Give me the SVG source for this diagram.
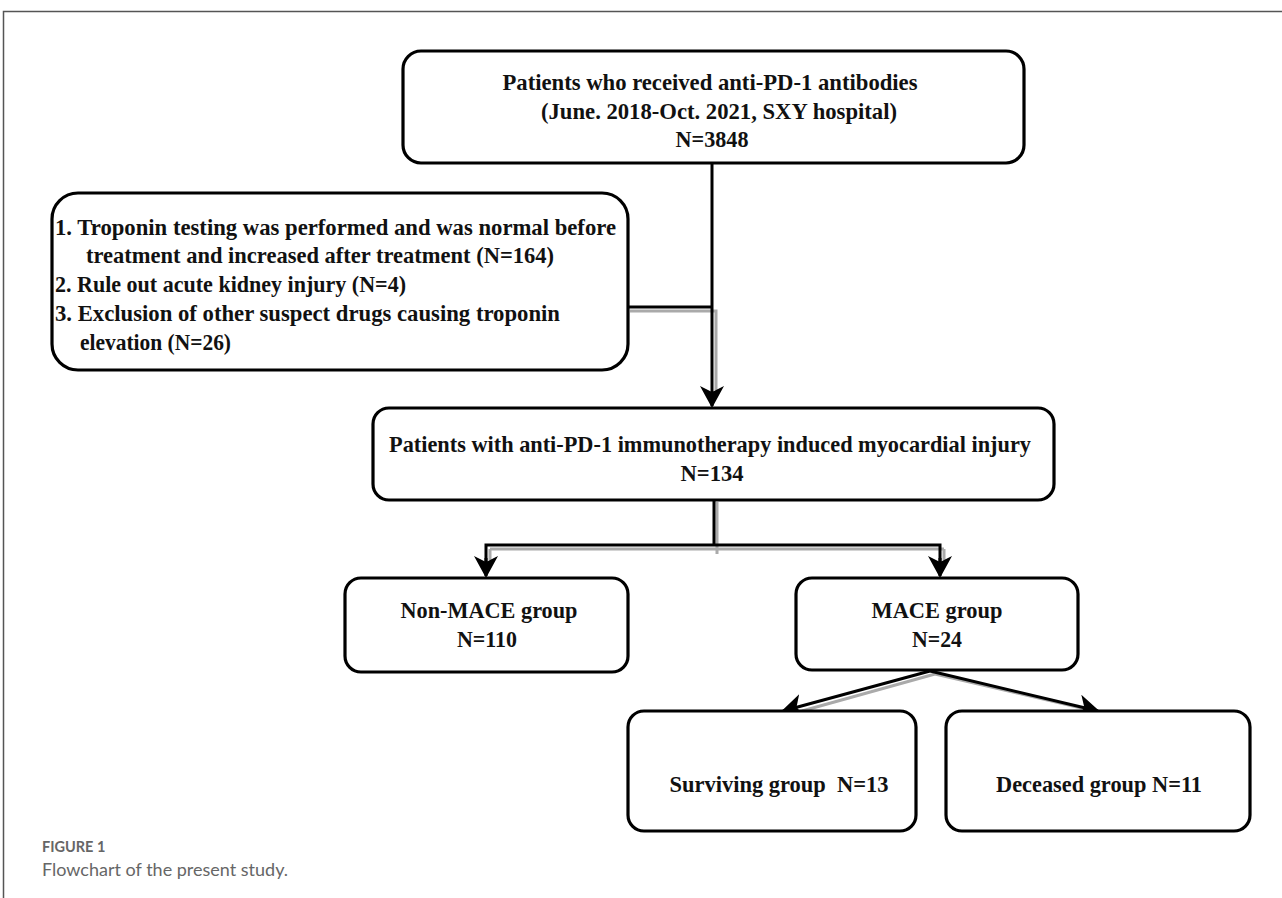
<svg xmlns="http://www.w3.org/2000/svg" width="1282" height="898" viewBox="0 0 1282 898">
<style>
.box{fill:#fff;stroke:#000;stroke-width:3.2}
.t{font-family:"Liberation Serif","Times New Roman",serif;font-weight:bold;font-size:24px;fill:#111}
.c{text-anchor:middle}
.ln{stroke:#000;stroke-width:3;fill:none}
.sh{stroke:#aaa;stroke-width:3;fill:none}
.frame{stroke:#555;stroke-width:1.5;fill:none}
.cap{font-family:Lato,"Open Sans",sans-serif;fill:#666}
</style>
<defs>
<marker id="ah" viewBox="0 0 22 24" refX="20" refY="12" markerWidth="22" markerHeight="24" markerUnits="userSpaceOnUse" orient="auto">
<path d="M0,0 L22,12 L0,24 L6,12 Z" fill="#000"/>
</marker>
</defs>
<rect width="1282" height="898" fill="#fff"/>
<path class="frame" d="M1282,11.5 H3.5 V898"/>
<g id="connectors">
<path class="sh" d="M630,311 H716 V390"/>
<path class="ln" d="M712,163 V406" marker-end="url(#ah)"/>
<path class="ln" d="M628,307 H712"/>
<path class="sh" d="M717,502 V554 M490,549 H944 M490,549 V560 M944,549 V560"/>
<path class="ln" d="M714,500 V545 H486 V566 M714,545 H940 V566"/>
<path class="ln" d="M486,558 V576" marker-end="url(#ah)"/>
<path class="ln" d="M940,558 V576" marker-end="url(#ah)"/>
<path class="sh" d="M935,674 L802,711 M935,674 L1086,709"/>
<path class="ln" d="M930,671 L783,711" marker-end="url(#ah)"/>
<path class="ln" d="M930,671 L1098,711" marker-end="url(#ah)"/>
</g>
<g id="n1">
<rect class="box" x="403" y="51" width="621" height="112" rx="18"/>
<text class="t c" x="710" y="90" textLength="415" lengthAdjust="spacingAndGlyphs">Patients who received anti-PD-1 antibodies</text>
<text class="t c" x="719" y="119" textLength="356" lengthAdjust="spacingAndGlyphs">(June. 2018-Oct. 2021, SXY hospital)</text>
<text class="t c" x="712" y="147" textLength="73" lengthAdjust="spacingAndGlyphs">N=3848</text>
</g>
<g id="n2">
<rect class="box" x="52" y="193" width="576" height="177" rx="26"/>
<text class="t" x="55" y="235" textLength="561" lengthAdjust="spacingAndGlyphs">1. Troponin testing was performed and was normal before</text>
<text class="t" x="86" y="263" textLength="468" lengthAdjust="spacingAndGlyphs">treatment and increased after treatment (N=164)</text>
<text class="t" x="55" y="292" textLength="351" lengthAdjust="spacingAndGlyphs">2. Rule out acute kidney injury (N=4)</text>
<text class="t" x="55" y="321" textLength="505" lengthAdjust="spacingAndGlyphs">3. Exclusion of other suspect drugs causing troponin</text>
<text class="t" x="80" y="350" textLength="151" lengthAdjust="spacingAndGlyphs">elevation (N=26)</text>
</g>
<g id="n3">
<rect class="box" x="373" y="408" width="681" height="92" rx="16"/>
<text class="t c" x="710" y="452" textLength="642" lengthAdjust="spacingAndGlyphs">Patients with anti-PD-1 immunotherapy induced myocardial injury</text>
<text class="t c" x="712" y="481" textLength="63" lengthAdjust="spacingAndGlyphs">N=134</text>
</g>
<g id="n4">
<rect class="box" x="345" y="578" width="283" height="94" rx="16"/>
<text class="t c" x="489" y="618" textLength="177" lengthAdjust="spacingAndGlyphs">Non-MACE group</text>
<text class="t c" x="487" y="647" textLength="60" lengthAdjust="spacingAndGlyphs">N=110</text>
</g>
<g id="n5">
<rect class="box" x="796" y="578" width="282" height="92" rx="16"/>
<text class="t c" x="937" y="618" textLength="131" lengthAdjust="spacingAndGlyphs">MACE group</text>
<text class="t c" x="937" y="647" textLength="50" lengthAdjust="spacingAndGlyphs">N=24</text>
</g>
<g id="n6">
<rect class="box" x="628" y="711" width="288" height="120" rx="16"/>
<text class="t c" x="779" y="792" xml:space="preserve" textLength="219" lengthAdjust="spacingAndGlyphs">Surviving group  N=13</text>
</g>
<g id="n7">
<rect class="box" x="946" y="711" width="304" height="120" rx="16"/>
<text class="t c" x="1099" y="792" textLength="206" lengthAdjust="spacingAndGlyphs">Deceased group N=11</text>
</g>
<g id="caption">
<text class="cap" x="42" y="852" font-size="14.5" font-weight="bold">FIGURE 1</text>
<text class="cap" x="42" y="876" font-size="18">Flowchart of the present study.</text>
</g>
</svg>
